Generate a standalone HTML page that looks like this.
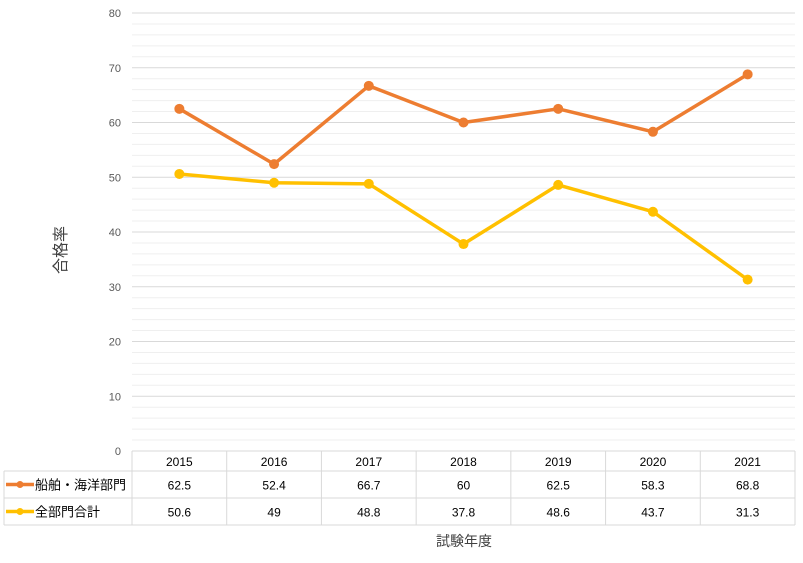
<!DOCTYPE html>
<html><head><meta charset="utf-8"><style>
body{margin:0;background:#fff;}
svg text{font-family:"Liberation Sans","Noto Sans CJK JP",sans-serif;}
</style></head><body>
<svg id="c" width="803" height="558" xmlns="http://www.w3.org/2000/svg"></svg>
<script>
const years=["2015","2016","2017","2018","2019","2020","2021"];
const shipValues=[62.5,52.4,66.7,60,62.5,58.3,68.8];
const allValues=[50.6,49,48.8,37.8,48.6,43.7,31.3];
const seriesNames=["船舶・海洋部門","全部門合計"];
const yTicks=[0,10,20,30,40,50,60,70,80];
const colors=["#ED7D31","#FFC000"];
const NS="http://www.w3.org/2000/svg";
const svg=document.getElementById('c');
const X0=132,X1=795,Y0=451,Y1=13,YMAX=80;
const colW=(X1-X0)/years.length;
const xs=i=>X0+colW*(i+0.5);
const ys=v=>Y0-(v/YMAX)*(Y0-Y1);
function mk(tag,attrs,parent){const e=document.createElementNS(NS,tag);for(const k in attrs)e.setAttribute(k,attrs[k]);(parent||svg).appendChild(e);return e;}
// minor grid
for(let v=2;v<YMAX;v+=2){if(v%10===0)continue;const l=mk('line',{x1:X0,x2:X1,y1:ys(v),y2:ys(v),stroke:'#efefef','stroke-width':1});

}
yTicks.forEach(v=>{
 if(v>0){const l=mk('line',{x1:X0,x2:X1,y1:ys(v),y2:ys(v),stroke:'#d9d9d9','stroke-width':1});
 
 }
 const t=mk('text',{x:121,y:ys(v)+4,'text-anchor':'end','font-size':11,fill:'#595959'});t.textContent=v;
 
 
});
const yt=mk('text',{x:0,y:0,'font-size':16,fill:'#404040','text-anchor':'middle',transform:'translate(66,250) rotate(-90)'});yt.textContent='合格率';


// table
const rows=[451,471,498,525];
const tg=mk('g',{stroke:'#d9d9d9','stroke-width':1});


mk('line',{x1:X0,x2:X1,y1:rows[0],y2:rows[0]},tg);
for(let r=1;r<4;r++)mk('line',{x1:4,x2:X1,y1:rows[r],y2:rows[r]},tg);
for(let i=0;i<=years.length;i++)mk('line',{x1:X0+colW*i,x2:X0+colW*i,y1:rows[0],y2:rows[3]},tg);
mk('line',{x1:4,x2:4,y1:rows[1],y2:rows[3]},tg);
years.forEach((y,i)=>{const t=mk('text',{x:xs(i),y:466,'text-anchor':'middle','font-size':12,fill:'#000'});t.textContent=y;

});
[shipValues,allValues].forEach((arr,s)=>{
 const cy=(rows[s+1]+rows[s+2])/2;
 const ll=mk('line',{x1:6,x2:34,y1:cy,y2:cy,stroke:colors[s],'stroke-width':3.5});
 
 
 mk('circle',{cx:20,cy:cy,r:3.5,fill:colors[s]});
 const lt=mk('text',{x:35,y:cy+5,'font-size':13,fill:'#000'});lt.textContent=seriesNames[s];
 
 
 arr.forEach((v,i)=>{const t=mk('text',{x:xs(i),y:cy+5,'text-anchor':'middle','font-size':12,fill:'#000'});t.textContent=v;
 
 });
});
const xt=mk('text',{x:464,y:546,'text-anchor':'middle','font-size':14,fill:'#404040'});xt.textContent='試験年度';


// series
[shipValues,allValues].forEach((arr,s)=>{
 const p=mk('polyline',{points:arr.map((v,i)=>xs(i)+','+ys(v)).join(' '),fill:'none',stroke:colors[s],'stroke-width':3.5,'stroke-linejoin':'round'});
 
 
 arr.forEach((v,i)=>{const c=mk('circle',{cx:xs(i),cy:ys(v),r:5,fill:colors[s]});
 
 });
});
</script>
</body></html>
